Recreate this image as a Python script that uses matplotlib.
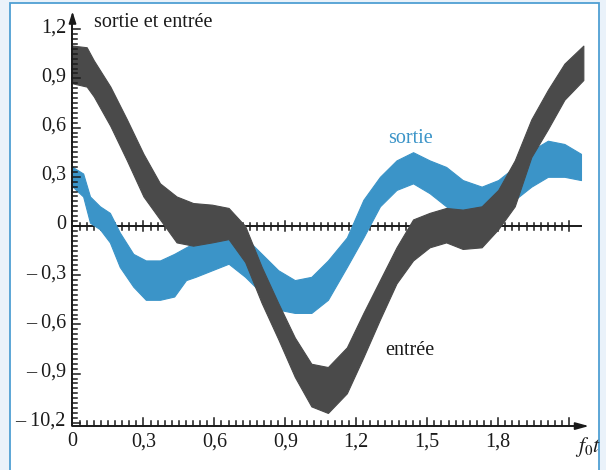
import matplotlib
matplotlib.use("Agg")
import matplotlib.pyplot as plt
from matplotlib.patches import Rectangle
import numpy as np

plt.rcParams['mathtext.fontset'] = 'stix'
plt.rcParams['font.family'] = ['Liberation Serif', 'DejaVu Serif']

# ---- data (envelopes) ----
t_entree = [0.0, 0.06, 0.09, 0.16, 0.23, 0.30, 0.37, 0.44, 0.51, 0.59, 0.66, 0.73,
            0.80, 0.87, 0.94, 1.01, 1.08, 1.16, 1.23, 1.30, 1.37, 1.44, 1.51, 1.58,
            1.65, 1.73, 1.80, 1.87, 1.94, 2.01, 2.08, 2.16]
entree_haut = [1.10, 1.09, 1.01, 0.85, 0.65, 0.44, 0.26, 0.18, 0.14, 0.13, 0.11, 0.00,
               -0.25, -0.47, -0.68, -0.84, -0.86, -0.74, -0.53, -0.33, -0.13, 0.04, 0.08, 0.11,
               0.10, 0.12, 0.22, 0.40, 0.65, 0.83, 0.99, 1.10]
entree_bas = [0.87, 0.85, 0.79, 0.61, 0.40, 0.18, 0.04, -0.10, -0.12, -0.10, -0.08, -0.22,
              -0.47, -0.69, -0.92, -1.10, -1.14, -1.02, -0.80, -0.57, -0.35, -0.21, -0.13, -0.10,
              -0.14, -0.13, -0.02, 0.12, 0.42, 0.59, 0.77, 0.89]

t_sortie = [0.0, 0.045, 0.074, 0.116, 0.158, 0.20, 0.257, 0.31, 0.37, 0.43, 0.48, 0.52,
            0.59, 0.66, 0.73, 0.80, 0.87, 0.94, 1.01, 1.08, 1.16, 1.23, 1.30, 1.37,
            1.44, 1.51, 1.58, 1.65, 1.73, 1.80, 1.87, 1.94, 2.01, 2.08, 2.15]
sortie_haut = [0.36, 0.32, 0.18, 0.12, 0.08, -0.04, -0.17, -0.21, -0.21, -0.17, -0.13, -0.10,
               -0.04, 0.00, -0.07, -0.17, -0.27, -0.33, -0.31, -0.21, -0.07, 0.16, 0.30, 0.40,
               0.45, 0.40, 0.36, 0.28, 0.24, 0.28, 0.36, 0.46, 0.52, 0.50, 0.44]
sortie_bas = [0.24, 0.18, 0.02, -0.02, -0.10, -0.25, -0.37, -0.45, -0.45, -0.43, -0.33, -0.31,
              -0.27, -0.23, -0.31, -0.41, -0.51, -0.53, -0.53, -0.45, -0.25, -0.07, 0.12, 0.22,
              0.26, 0.20, 0.12, 0.04, 0.00, 0.06, 0.16, 0.24, 0.30, 0.30, 0.28]

x_major = [0, 0.3, 0.6, 0.9, 1.2, 1.5, 1.8]
x_labels = ["0", "0,3", "0,6", "0,9", "1,2", "1,5", "1,8"]
y_major = [1.2, 0.9, 0.6, 0.3, 0, -0.3, -0.6, -0.9, -1.2]
y_labels = ["1,2", "0,9", "0,6", "0,3", "0", "\u2013 0,3", "\u2013 0,6", "\u2013 0,9", "\u2013 10,2"]

# ---- figure ----
W, H = 606, 470
fig = plt.figure(figsize=(W / 100, H / 100), dpi=100)
fig.patch.set_facecolor('#eaf2fa')
panel = Rectangle((10 / W, -0.01), 589 / W, (H - 3) / H + 0.01, transform=fig.transFigure,
                  facecolor='white', edgecolor='#4f9fd3', linewidth=1.3, zorder=-10)
fig.add_artist(panel)

ax = fig.add_axes([0, 0, 1, 1])
ax.set_axis_off()
ax.patch.set_visible(False)
px_x, px_y = 236.5, 164.0
x0, y0 = 72.5, 226.0
ax.set_xlim((0 - x0) / px_x, (W - x0) / px_x)
ax.set_ylim((y0 - H) / px_y, (y0 - 0) / px_y)

dx = 1 / px_x
dy = 1 / px_y
ink = '#1a1a1a'
dark = '#4a4a4a'
blue = '#3b94c8'

# curves
ax.fill_between(t_sortie, sortie_bas, sortie_haut, color=blue, lw=0.8, zorder=3)
ax.fill_between(t_entree, entree_bas, entree_haut, color=dark, lw=0.8, zorder=4)

# axes lines
ybot = -1.22
ax.plot([0, 0], [ybot, 1.26], color=ink, lw=1.4, zorder=5, solid_capstyle='butt')
ax.annotate('', xy=(0, 1.325), xytext=(0, 1.24),
            arrowprops=dict(arrowstyle='-|>,head_length=0.7,head_width=0.22', color=ink, lw=1.2), zorder=5)
ax.plot([0, 2.13], [ybot, ybot], color=ink, lw=1.4, zorder=5, solid_capstyle='butt')
ax.annotate('', xy=(2.195, ybot), xytext=(2.12, ybot),
            arrowprops=dict(arrowstyle='-|>,head_length=0.8,head_width=0.22', color=ink, lw=1.2), zorder=5)
ax.plot([0, 2.15], [0, 0], color=ink, lw=1.4, zorder=2)

# ticks
xt = np.round(np.arange(0, 2.1001, 0.03), 4)
for v in xt:
    major = abs(v / 0.3 - round(v / 0.3)) < 1e-6
    h = 8 if major else 5
    ax.plot([v, v], [ybot, ybot + h * dy], color=ink, lw=1.1, zorder=5)
    if v > 0:
        hz = 5 if major else 3.5
        ax.plot([v, v], [-hz * dy, hz * dy], color=ink, lw=1.1, zorder=2)
yt = np.round(np.arange(-1.2, 1.2001, 0.03), 4)
for v in yt:
    major = abs(v / 0.3 - round(v / 0.3)) < 1e-6
    w = 8 if major else 5
    ax.plot([0, w * dx], [v, v], color=ink, lw=1.1, zorder=5)

# tick labels
fs = 14.5
for v, s in zip(x_major, x_labels):
    ax.text(v, -1.317, s, ha='center', va='center', fontsize=fs, color=ink)
for v, s in zip(y_major, y_labels):
    ax.text(-6.5 * dx, v + 1.5 * dy, s, ha='right', va='center', fontsize=fs, color=ink)

ax.text(2.18, -1.35, r'$f_0t$', ha='center', va='center', fontsize=fs + 1, color=ink)
ax.text((94 - x0) * dx, (y0 - 27) * dy, 'sortie et entrée', ha='left', va='baseline',
        fontsize=fs, color=ink)
ax.text((388 - x0) * dx, (y0 - 143) * dy, 'sortie', ha='left', va='baseline', fontsize=fs, color=blue)
ax.text((385 - x0) * dx, (y0 - 355) * dy, 'entrée', ha='left', va='baseline', fontsize=fs, color=ink)

fig.savefig('out.png', dpi=100, facecolor=fig.get_facecolor())
